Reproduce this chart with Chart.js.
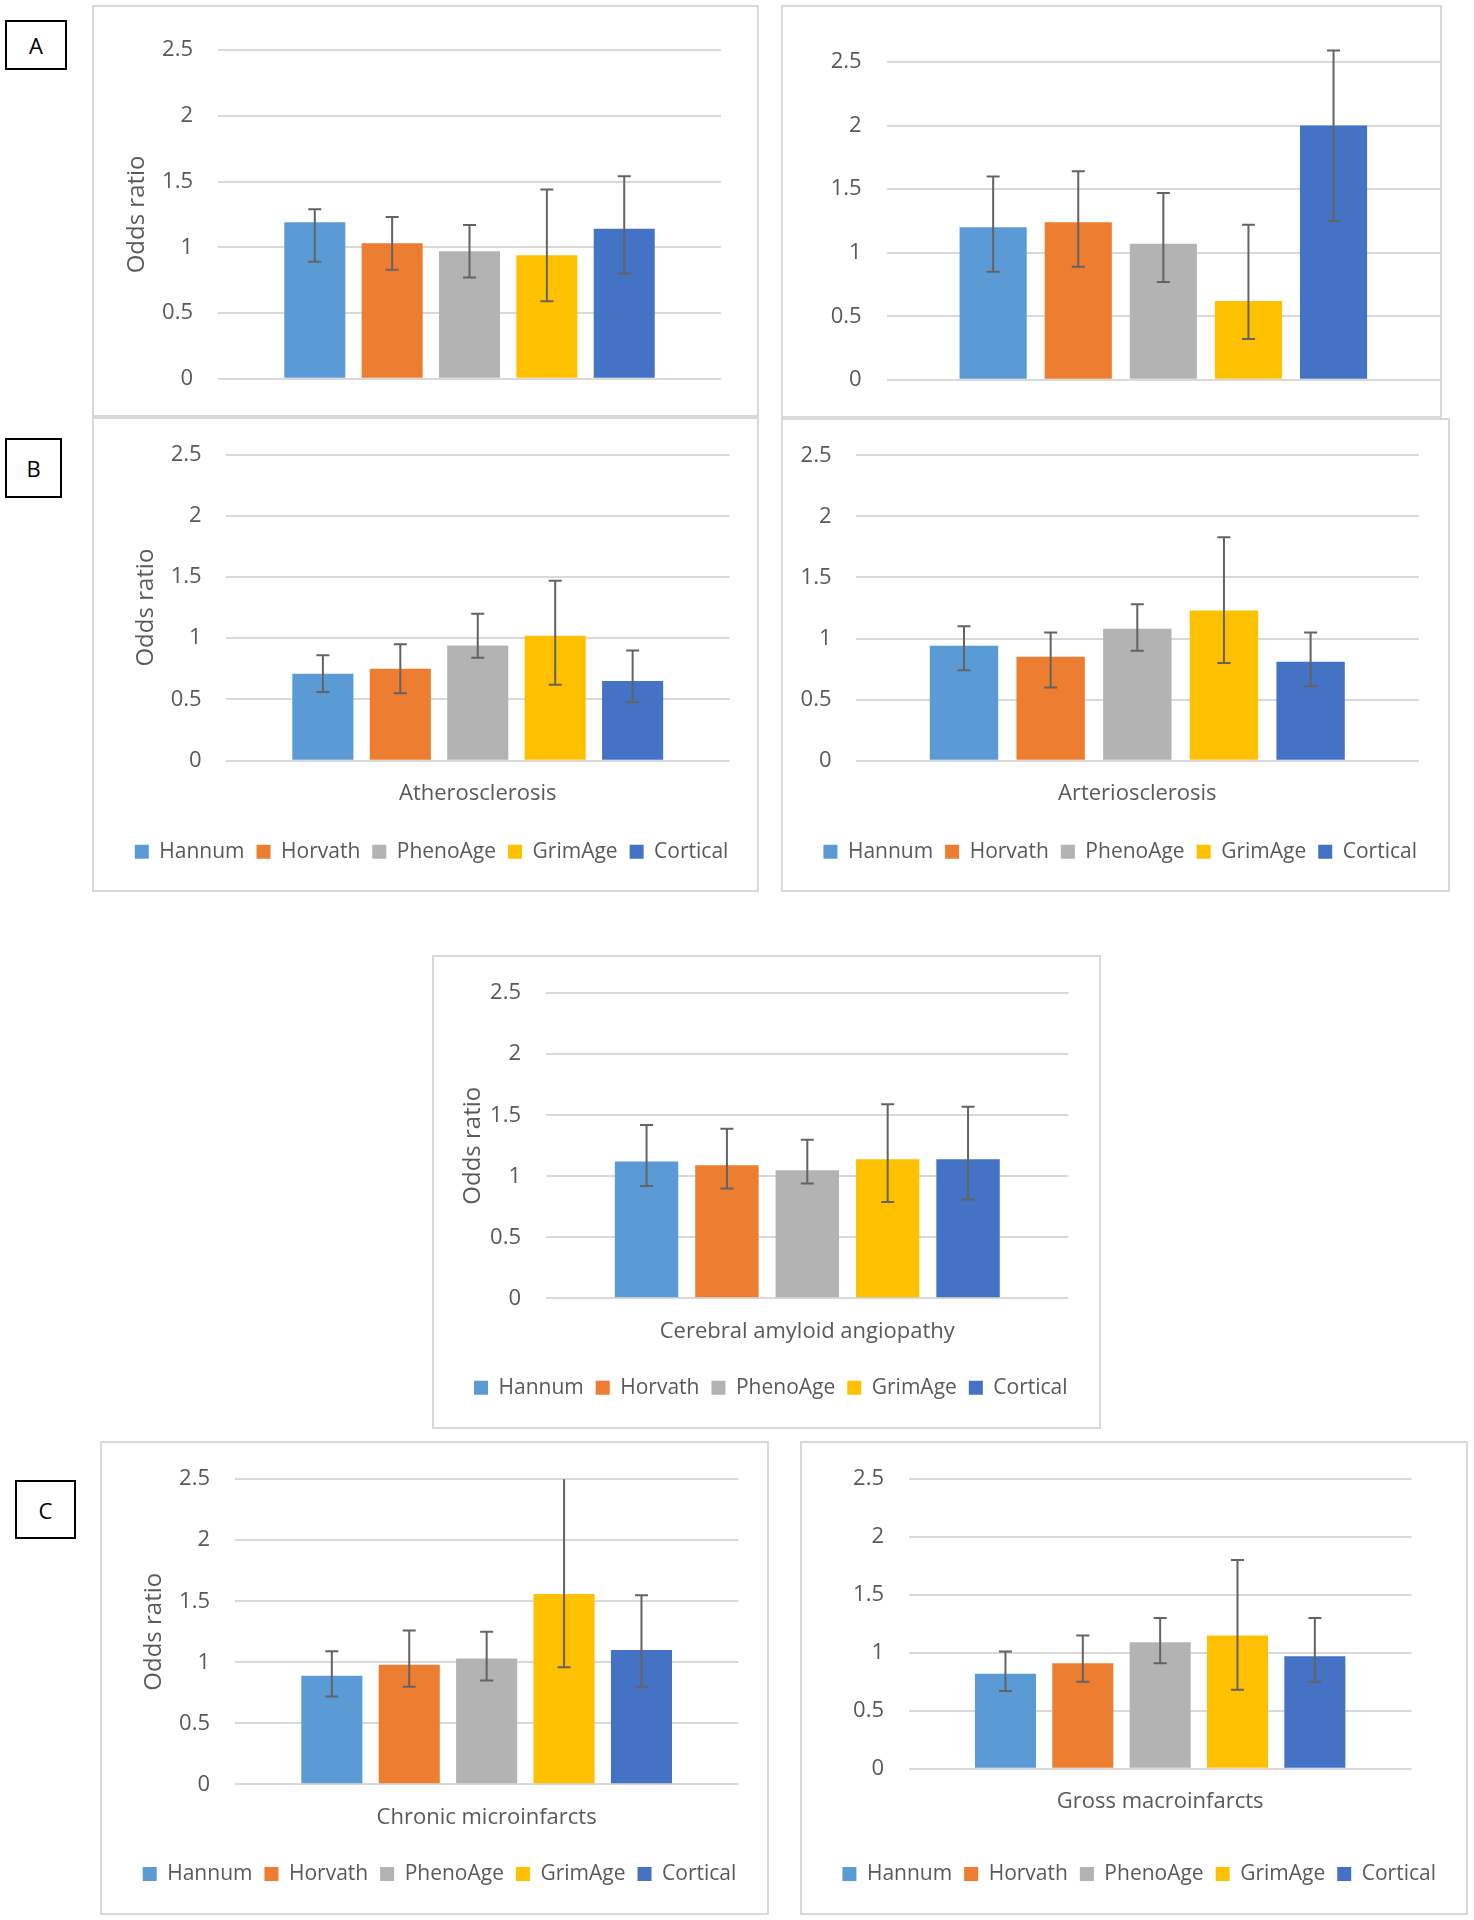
<!DOCTYPE html>
<html lang="en">
<head>
<meta charset="UTF-8" />
<script src="https://cdn.jsdelivr.net/npm/chart.js@4.4.1/dist/chart.umd.min.js"></script>
<style>
	body { margin: 0; width: 1474px; height: 1920px; background: #fff; position: relative; overflow: hidden; font-family: 'Open Sans', sans-serif; }
	.panel { position: absolute; background: #fff; box-shadow: inset 0 0 0 2px #d9d9d9; }
	.panel canvas { position: absolute; left: 0; top: 0; }
	.tag { position: absolute; border: 2px solid #000; box-sizing: border-box; display: flex; align-items: center; justify-content: center; font-size: 22px; color: #000; z-index: 10; }
</style>
</head>
<body>
<div class="tag" style="left:5px;top:20px;width:62px;height:50px">A</div>
<div class="tag" style="left:5px;top:438px;width:57px;height:60px">B</div>
<div class="tag" style="left:15px;top:1480px;width:61px;height:59px">C</div>
<script>
const methods = ['Hannum', 'Horvath', 'PhenoAge', 'GrimAge', 'Cortical']
const methodColors = ['#5B9BD5', '#ED7D31', '#B3B3B3', '#FFC000', '#4472C4']
const yTickMax = 2.5
const yTickStep = 0.5

// panel A, left (outcome label hidden under panel B)
const aLeftOR = [1.19, 1.03, 0.97, 0.94, 1.14]
const aLeftLo = [0.89, 0.83, 0.77, 0.59, 0.80]
const aLeftHi = [1.29, 1.23, 1.17, 1.44, 1.54]
// panel A, right
const aRightOR = [1.20, 1.24, 1.07, 0.62, 2.00]
const aRightLo = [0.85, 0.89, 0.77, 0.32, 1.25]
const aRightHi = [1.60, 1.64, 1.47, 1.22, 2.59]
// panel B
const atheroOR = [0.71, 0.75, 0.94, 1.02, 0.65]
const atheroLo = [0.56, 0.55, 0.84, 0.62, 0.48]
const atheroHi = [0.86, 0.95, 1.20, 1.47, 0.90]
const arterioOR = [0.94, 0.85, 1.08, 1.23, 0.81]
const arterioLo = [0.74, 0.60, 0.90, 0.80, 0.61]
const arterioHi = [1.10, 1.05, 1.28, 1.83, 1.05]
const caaOR = [1.12, 1.09, 1.05, 1.14, 1.14]
const caaLo = [0.92, 0.90, 0.94, 0.79, 0.81]
const caaHi = [1.42, 1.39, 1.30, 1.59, 1.57]
// panel C
const microOR = [0.89, 0.98, 1.03, 1.56, 1.10]
const microLo = [0.72, 0.80, 0.85, 0.96, 0.80]
const microHi = [1.09, 1.26, 1.25, 2.60, 1.55]
const macroOR = [0.82, 0.91, 1.09, 1.15, 0.97]
const macroLo = [0.67, 0.75, 0.91, 0.68, 0.75]
const macroHi = [1.01, 1.15, 1.30, 1.80, 1.30]

const textColor = '#595959'
const fontFamily = "'Open Sans', sans-serif"

const panels = [
	{ box: { x: 92, y: 5, w: 667, h: 412 }, area: { l: 218, r: 721, t: 50, b: 392.7 }, tickRight: 193, titleX: 137.2, label: null, or: aLeftOR, lo: aLeftLo, hi: aLeftHi },
	{ box: { x: 781, y: 5, w: 661, h: 413 }, area: { l: 886.7, r: 1440, t: 62, b: 404.7 }, tickRight: 861.7, label: null, or: aRightOR, lo: aRightLo, hi: aRightHi },
	{ box: { x: 92, y: 417, w: 667, h: 475 }, area: { l: 226, r: 729.5, t: 449.3, b: 760.7 }, tickRight: 201.7, titleX: 145.7, label: 'Atherosclerosis', labelY: 793.3, legendY: 851.7, legendX: 431.6, or: atheroOR, lo: atheroLo, hi: atheroHi },
	{ box: { x: 781, y: 418, w: 669, h: 474 }, area: { l: 855.6, r: 1419, t: 449.3, b: 760.7 }, tickRight: 831.5, label: 'Arteriosclerosis', labelY: 793.3, legendY: 851.7, legendX: 1120.2, or: arterioOR, lo: arterioLo, hi: arterioHi },
	{ box: { x: 432, y: 955, w: 669, h: 474 }, area: { l: 546, r: 1068.6, t: 986.7, b: 1298.3 }, tickRight: 521, titleX: 473.3, label: 'Cerebral amyloid angiopathy', labelY: 1331.7, legendY: 1387.7, legendX: 770.8, or: caaOR, lo: caaLo, hi: caaHi },
	{ box: { x: 100, y: 1441, w: 669, h: 474 }, area: { l: 235, r: 738.3, t: 1472.3, b: 1784.3 }, tickRight: 210, titleX: 154, label: 'Chronic microinfarcts', labelY: 1817.3, legendY: 1874, legendX: 439.5, clipTop: true, or: microOR, lo: microLo, hi: microHi },
	{ box: { x: 800, y: 1441, w: 668, h: 474 }, area: { l: 908.7, r: 1411.6, t: 1456.7, b: 1768.7 }, tickRight: 884, label: 'Gross macroinfarcts', labelY: 1801.7, legendY: 1874, legendX: 1139.2, or: macroOR, lo: macroLo, hi: macroHi },
]

const errorBars = {
	id: 'errorBars',
	afterDatasetsDraw(chart, args, opts) {
		const { ctx } = chart
		const y = chart.scales.y
		ctx.save()
		ctx.strokeStyle = '#636363'
		ctx.lineWidth = 2
		chart.data.datasets.forEach((ds, i) => {
			const bar = chart.getDatasetMeta(i).data[0]
			let hiV = opts.hi[i]
			const capHi = !(opts.clipTop && hiV > y.max)
			if (opts.clipTop) hiV = Math.min(hiV, y.max)
			const yh = y.getPixelForValue(hiV)
			const yl = y.getPixelForValue(opts.lo[i])
			ctx.beginPath()
			ctx.moveTo(bar.x, yh)
			ctx.lineTo(bar.x, yl)
			if (capHi) {
				ctx.moveTo(bar.x - 6.5, yh)
				ctx.lineTo(bar.x + 6.5, yh)
			}
			ctx.moveTo(bar.x - 6.5, yl)
			ctx.lineTo(bar.x + 6.5, yl)
			ctx.stroke()
		})
		ctx.restore()
	},
}

function makePanel(p) {
	const div = document.createElement('div')
	div.className = 'panel'
	div.style.left = p.box.x + 'px'
	div.style.top = p.box.y + 'px'
	div.style.width = p.box.w + 'px'
	div.style.height = p.box.h + 'px'
	const canvasEl = document.createElement('canvas')
	canvasEl.width = p.box.w
	canvasEl.height = p.box.h
	div.appendChild(canvasEl)
	document.body.appendChild(div)

	const hasLegend = !!p.label
	p.xH = hasLegend ? p.legendY - p.area.b - 22 : 0
	p.padB = hasLegend ? 20 : p.box.y + p.box.h - p.area.b
	p.legendDx = 0

	const padding = () => ({ left: 0, right: 0, top: p.area.t - p.box.y, bottom: p.padB })

	// moves the legend sideways after layout, the way the original sits in its frame
	const legendShift = {
		id: 'legendShift',
		afterLayout(chart) {
			if (chart.legend && p.legendDx) {
				chart.legend.left += p.legendDx
				chart.legend.right += p.legendDx
			}
		},
	}

	const chart = new Chart(canvasEl.getContext('2d'), {
		type: 'bar',
		data: {
			labels: [p.label || ''],
			datasets: methods.map((m, i) => ({
				label: m,
				data: [p.or[i]],
				backgroundColor: methodColors[i],
				borderWidth: 0,
				categoryPercentage: 0.769,
				barPercentage: 0.789,
			})),
		},
		options: {
			responsive: false,
			animation: false,
			layout: { padding: padding() },
			plugins: {
				tooltip: { enabled: false },
				legend: {
					display: hasLegend,
					position: 'bottom',
					labels: { boxWidth: 14, boxHeight: 14, padding: 12, color: textColor, font: { family: fontFamily, size: 21 } },
				},
				errorBars: { lo: p.lo, hi: p.hi, clipTop: !!p.clipTop },
			},
			scales: {
				x: {
					grid: { display: false, drawTicks: false },
					border: { display: false },
					ticks: { display: hasLegend, padding: hasLegend ? p.labelY - p.area.b - 13.2 : 0, color: textColor, font: { family: fontFamily, size: 22 } },
					afterFit: (s) => { s.height = p.xH },
				},
				y: {
					min: 0,
					max: yTickMax,
					ticks: {
						stepSize: yTickStep,
						padding: p.area.l - p.tickRight,
						color: textColor,
						font: { family: fontFamily, size: 22 },
						callback: (v) => String(Math.round(v * 10) / 10),
					},
					grid: { color: '#d9d9d9', lineWidth: 2, drawTicks: false },
					border: { display: false },
					title: { display: !!p.titleX, text: 'Odds ratio', color: textColor, font: { family: fontFamily, size: 24 }, padding: { top: p.titleX ? p.titleX - p.box.x - 14.4 : 0, bottom: 0 } },
					afterFit: (s) => { s.width = p.area.l - p.box.x },
				},
				// empty right-hand scale that only holds the gap right of the plot
				yGap: {
					type: 'linear',
					position: 'right',
					ticks: { display: false },
					grid: { display: false, drawTicks: false },
					border: { display: false },
					afterFit: (s) => { s.width = p.box.x + p.box.w - p.area.r },
				},
			},
		},
		plugins: [errorBars, legendShift],
	})

	for (let k = 0; k < 3; k++) {
		const a = chart.chartArea
		const dB = (p.area.b - p.box.y) - a.bottom
		if (hasLegend) {
			const hb = chart.legend.legendHitBoxes
			const cy = hb[0].top + hb[0].height / 2
			const dy = (p.legendY - p.box.y) - cy
			const last = hb[hb.length - 1]
			const cx = (hb[0].left + last.left + last.width) / 2
			p.legendDx += (p.legendX - p.box.x) - cx
			p.padB -= dy
			p.xH += dy - dB
		} else {
			p.padB -= dB
		}
		chart.options.layout.padding = padding()
		chart.update()
	}
	return chart
}

panels.forEach(makePanel)
</script>
</body>
</html>
